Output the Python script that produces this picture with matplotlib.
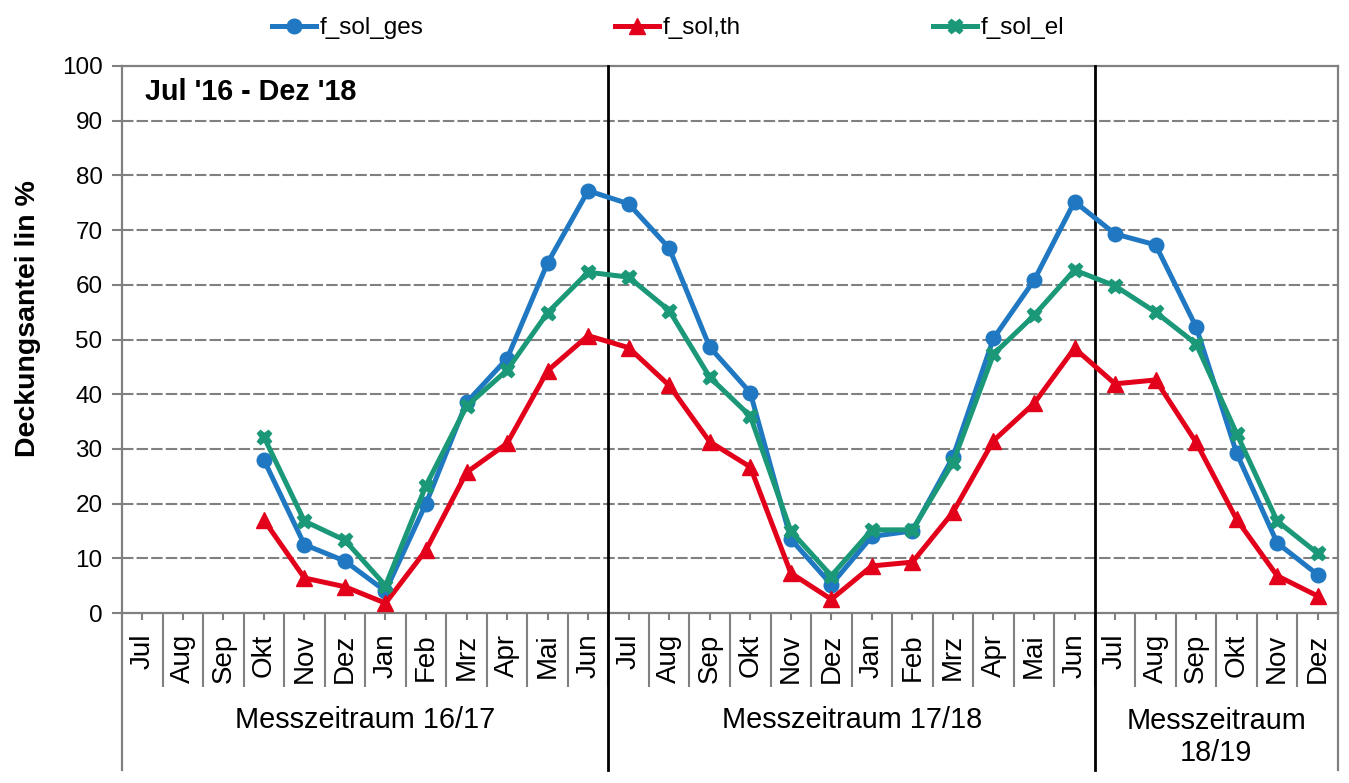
import numpy as np
import matplotlib
matplotlib.use("Agg")
import matplotlib.pyplot as plt
from matplotlib.lines import Line2D
import matplotlib.transforms as mtransforms

plt.rcParams['font.family'] = ['Liberation Sans', 'DejaVu Sans']

months = ["Jul", "Aug", "Sep", "Okt", "Nov", "Dez", "Jan", "Feb", "Mrz", "Apr", "Mai", "Jun",
          "Jul", "Aug", "Sep", "Okt", "Nov", "Dez", "Jan", "Feb", "Mrz", "Apr", "Mai", "Jun",
          "Jul", "Aug", "Sep", "Okt", "Nov", "Dez"]
groups = ["Messzeitraum 16/17", "Messzeitraum 17/18", "Messzeitraum\n18/19"]
group_sizes = [12, 12, 6]

nan = np.nan
f_sol_ges = [nan, nan, nan, 28.0, 12.5, 9.5, 4.0, 20.0, 38.5, 46.5, 64.0, 77.2,
             74.8, 66.7, 48.6, 40.3, 13.5, 5.2, 14.0, 15.0, 28.5, 50.2, 60.8, 75.2,
             69.3, 67.3, 52.3, 29.2, 12.8, 7.0]
f_sol_th = [nan, nan, nan, 17.0, 6.4, 4.8, 1.8, 11.5, 25.7, 31.0, 44.3, 50.7,
            48.5, 41.6, 31.3, 26.7, 7.3, 2.5, 8.6, 9.3, 18.4, 31.5, 38.3, 48.4,
            41.9, 42.6, 31.2, 17.1, 6.8, 3.1]
f_sol_el = [nan, nan, nan, 32.2, 16.8, 13.3, 5.0, 23.3, 37.8, 44.4, 54.9, 62.3,
            61.4, 55.3, 43.1, 36.0, 15.0, 6.8, 15.2, 15.2, 27.5, 47.3, 54.4, 62.7,
            59.8, 55.0, 49.2, 32.8, 16.8, 10.9]

series_names = ["f_sol_ges", "f_sol,th", "f_sol_el"]
colors = ["#1F78C1", "#E2001A", "#1A9878"]
markers = ["o", "^", "X"]
msizes = [10.5, 11, 10.5]

W, H = 1349, 783
fig = plt.figure(figsize=(W / 100, H / 100), dpi=100)
L, R, T, B = 122, 1338, 66, 613
ax = fig.add_axes([L / W, 1 - B / H, (R - L) / W, (B - T) / H])

x = np.arange(len(months))
handles = []
for vals, name, c, m, ms in zip([f_sol_ges, f_sol_th, f_sol_el], series_names, colors, markers, msizes):
    h, = ax.plot(x, vals, color=c, lw=3.6, marker=m, markersize=ms, markeredgewidth=1,
                 markeredgecolor=c, label=name, zorder=5, clip_on=False)
    handles.append(h)

ax.set_xlim(-0.5, len(months) - 0.5)
ax.set_ylim(0, 100)
ax.set_yticks(np.arange(0, 101, 10))
gray = "#808080"
for yv in range(10, 100, 10):
    ax.axhline(yv, color=gray, lw=1.5, ls=(0, (5.5, 1.5)), zorder=1)

for s in ["left", "right", "top", "bottom"]:
    ax.spines[s].set_color(gray)
    ax.spines[s].set_linewidth(1.6)

ax.tick_params(axis="y", direction="out", length=7, width=1.5, color=gray,
               labelsize=17.5, pad=7)
ax.set_xticks(x)
ax.set_xticklabels(months, rotation=90, fontsize=20)
ax.tick_params(axis="x", which="major", direction="out", length=5, width=1.5,
               color=gray, pad=10)
bounds = np.arange(0.5, len(months) - 0.5, 1.0)
ax.set_xticks(bounds, minor=True)
ax.tick_params(axis="x", which="minor", direction="out", length=53, width=1.5, color=gray)

trans = mtransforms.blended_transform_factory(ax.transData, ax.transAxes)
ylow = -(770 - B) / (B - T)
edges = np.concatenate([[0], np.cumsum(group_sizes)]) - 0.5
for i, e in enumerate(edges):
    if i == 0 or i == len(edges) - 1:
        ax.add_line(Line2D([e, e], [0, ylow], transform=trans, color=gray, lw=1.6, clip_on=False))
    else:
        ax.add_line(Line2D([e, e], [1, ylow], transform=trans, color="black",
                           lw=2.0, clip_on=False, zorder=3))

for g, e0, e1 in zip(groups, edges[:-1], edges[1:]):
    if "\n" in g:
        ax.text((e0 + e1) / 2, -(707 - B) / (B - T), g, transform=trans, ha="center",
                va="top", fontsize=20.8, linespacing=1.18)
    else:
        ax.text((e0 + e1) / 2, -(720 - B) / (B - T), g, transform=trans, ha="center",
                va="center", fontsize=20.8)

ax.text((145 - L) / (R - L), (B - 92) / (B - T), "Jul '16 - Dez '18", transform=ax.transAxes,
        ha="left", va="center", fontsize=20.7, fontweight="bold")

fig.text(28 / W, 1 - 319 / H, "Deckungsantei lin %", rotation=90, ha="center", va="center",
         fontsize=20.5, fontweight="bold")

fig.legend(handles=handles, ncol=3, loc="center left", bbox_to_anchor=(272 / W, 1 - 28 / H),
           frameon=False, fontsize=17.5, handlelength=1.8, handletextpad=0.15,
           columnspacing=7.9, borderaxespad=0, borderpad=0)

fig.savefig("out.png", dpi=100)
